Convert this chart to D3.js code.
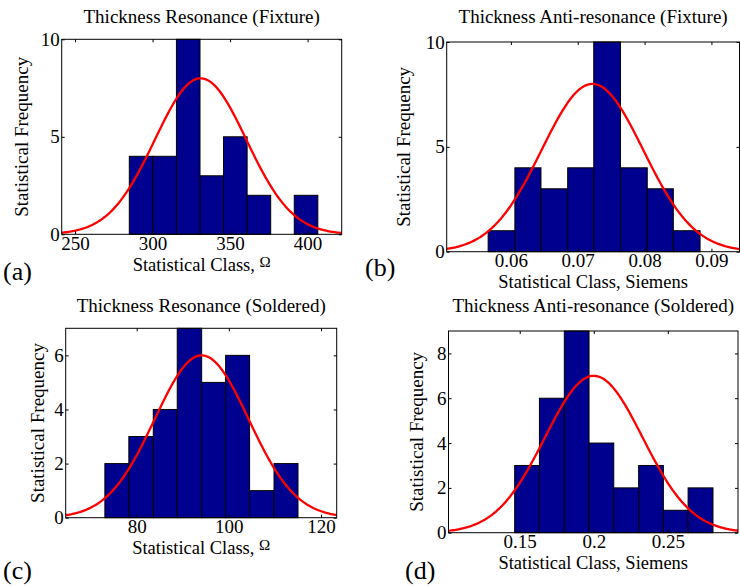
<!DOCTYPE html>
<html>
<head>
<meta charset="utf-8">
<script src="https://cdn.jsdelivr.net/npm/d3@7/dist/d3.min.js"></script>
<style>
  body { margin: 0; background: #fff; }
  svg { display: block; }
  svg text { font-family: "Liberation Serif", "DejaVu Serif", serif; }
</style>
</head>
<body>
<svg width="740" height="586"></svg>
<script>
// Histogram bins (edges) and counts
var edgesA = [285, 300.2, 315.4, 330.6, 345.8, 361, 376.2, 391.4, 406.6];
var countsA = [4, 4, 10, 3, 5, 2, 0, 2];

var edgesB = [0.0566, 0.0606, 0.0645, 0.0685, 0.0724, 0.0764, 0.0804, 0.0843, 0.0883];
var countsB = [1, 4, 3, 4, 10, 4, 3, 1];

var edgesC = [73.1, 78.3, 83.6, 88.8, 94.1, 99.3, 104.5, 109.8, 115.0];
var countsC = [2, 3, 4, 7, 5, 6, 1, 2];

var edgesD = [0.1466, 0.1633, 0.1801, 0.1968, 0.2135, 0.2303, 0.2470, 0.2637, 0.2805];
var countsD = [3, 6, 9, 4, 2, 3, 1, 2];

// normal fit of each histogram: [peak height, mean, sigma]
var fitA = [8, 331, 29.5];
var fitB = [8, 0.0722, 0.0076];
var fitC = [6, 94.1, 10.2];
var fitD = [7, 0.2, 0.033];

// axis limits and ticks
var xDomA = [241.4, 422],     xTicksA = [250, 300, 350, 400],     yDomA = [0, 10], yTicksA = [0, 5, 10];
var xDomB = [0.0504, 0.0942], xTicksB = [0.06, 0.07, 0.08, 0.09], yDomB = [0, 10], yTicksB = [0, 5, 10];
var xDomC = [64.6, 123.4],    xTicksC = [80, 100, 120],           yDomC = [0, 7],  yTicksC = [0, 2, 4, 6];
var xDomD = [0.1019, 0.2974], xTicksD = [0.15, 0.2, 0.25],        yDomD = [0, 9],  yTicksD = [0, 2, 4, 6, 8];

var titles = ["Thickness Resonance (Fixture)", "Thickness Anti-resonance (Fixture)",
              "Thickness Resonance (Soldered)", "Thickness Anti-resonance (Soldered)"];
var xLabels = ["Statistical Class, ", "Statistical Class, Siemens",
               "Statistical Class, ", "Statistical Class, Siemens"];
var xUnits = ["\u03A9", "", "\u03A9", ""];
var yLabel = "Statistical Frequency";
var tags = ["(a)", "(b)", "(c)", "(d)"];

var serif = "'Liberation Serif', 'DejaVu Serif', serif";
var svg = d3.select("svg").attr("font-family", serif);

// layout of the four axes boxes
var panels = [
  { edges: edgesA, counts: countsA, fit: fitA, xDom: xDomA, xTicks: xTicksA, yDom: yDomA, yTicks: yTicksA,
    l: 61.7, r: 341.7, t: 39.3, b: 234.3, titleY: 23, yLabX: 27.8, tagX: 3, tagY: 280 },
  { edges: edgesB, counts: countsB, fit: fitB, xDom: xDomB, xTicks: xTicksB, yDom: yDomB, yTicks: yTicksB,
    l: 446.7, r: 739.5, t: 42, b: 251.7, titleY: 23, yLabX: 409.5, tagX: 365, tagY: 276 },
  { edges: edgesC, counts: countsC, fit: fitC, xDom: xDomC, xTicks: xTicksC, yDom: yDomC, yTicks: yTicksC,
    l: 65.7, r: 336.7, t: 328.3, b: 517.7, titleY: 312, yLabX: 44, tagX: 3, tagY: 578.5 },
  { edges: edgesD, counts: countsD, fit: fitD, xDom: xDomD, xTicks: xTicksD, yDom: yDomD, yTicks: yTicksD,
    l: 448.5, r: 738, t: 331, b: 532.7, titleY: 312, yLabX: 422.8, tagX: 405, tagY: 578.5 }
];

panels.forEach(function(p, i) {
  var x = d3.scaleLinear().domain(p.xDom).range([p.l, p.r]);
  var y = d3.scaleLinear().domain(p.yDom).range([p.b, p.t]);
  var g = svg.append("g");

  // bars
  var bins = p.counts.map(function(c, k) { return { x0: p.edges[k], x1: p.edges[k + 1], n: c }; })
    .filter(function(d) { return d.n > 0; });
  g.selectAll("rect.bar")
    .data(bins)
    .enter()
    .append("rect")
    .attr("class", "bar")
    .attr("x", function(d) { return x(d.x0); })
    .attr("y", function(d) { return y(d.n); })
    .attr("width", function(d) { return x(d.x1) - x(d.x0); })
    .attr("height", function(d) { return y(0) - y(d.n); })
    .attr("fill", "#00008f")
    .attr("stroke", "#000")
    .attr("stroke-width", 1);

  // fitted normal curve over the whole x range
  var peak = p.fit[0], mu = p.fit[1], sd = p.fit[2];
  var xs = d3.range(0, 201).map(function(k) { return p.xDom[0] + k * (p.xDom[1] - p.xDom[0]) / 200; });
  var line = d3.line()
    .x(function(v) { return x(v); })
    .y(function(v) { return y(peak * Math.exp(-(v - mu) * (v - mu) / (2 * sd * sd))); });
  g.append("path")
    .datum(xs)
    .attr("d", line)
    .attr("fill", "none")
    .attr("stroke", "#ff0000")
    .attr("stroke-width", 2.3);

  // box
  g.append("rect")
    .attr("x", p.l).attr("y", p.t)
    .attr("width", p.r - p.l).attr("height", p.b - p.t)
    .attr("fill", "none").attr("stroke", "#000").attr("stroke-width", 1);

  // axes, ticks pointing inward on all four sides
  var fmt = function(d) { return String(d); };
  var axB = g.append("g").attr("transform", "translate(0," + p.b + ")")
    .call(d3.axisBottom(x).tickValues(p.xTicks).tickFormat(fmt).tickSizeInner(-3).tickSizeOuter(0).tickPadding(2));
  var axT = g.append("g").attr("transform", "translate(0," + p.t + ")")
    .call(d3.axisTop(x).tickValues(p.xTicks).tickFormat("").tickSizeInner(-3).tickSizeOuter(0));
  var axL = g.append("g").attr("transform", "translate(" + p.l + ",0)")
    .call(d3.axisLeft(y).tickValues(p.yTicks).tickFormat(fmt).tickSizeInner(-3).tickSizeOuter(0).tickPadding(2));
  var axR = g.append("g").attr("transform", "translate(" + p.r + ",0)")
    .call(d3.axisRight(y).tickValues(p.yTicks).tickFormat("").tickSizeInner(-3).tickSizeOuter(0));

  [axB, axT, axL, axR].forEach(function(a) {
    a.select(".domain").remove();
    a.attr("font-family", serif).attr("font-size", 19);
    a.selectAll("line").attr("stroke", "#000");
    a.selectAll("text").attr("fill", "#000").attr("font-family", serif);
  });

  // title
  g.append("text")
    .attr("x", (p.l + p.r) / 2).attr("y", p.titleY)
    .attr("text-anchor", "middle").attr("font-size", 19).attr("font-family", serif)
    .text(titles[i]);

  // x label
  var xl = g.append("text")
    .attr("x", (p.l + p.r) / 2).attr("y", p.b + 36.5)
    .attr("text-anchor", "middle").attr("font-size", 18.5).attr("font-family", serif);
  xl.append("tspan").text(xLabels[i]);
  if (xUnits[i]) xl.append("tspan").attr("font-size", 15).attr("dy", -4).text(xUnits[i]);

  // y label
  g.append("text")
    .attr("transform", "translate(" + p.yLabX + "," + (p.t + p.b) / 2 + ") rotate(-90)")
    .attr("text-anchor", "middle").attr("font-size", 19).attr("font-family", serif)
    .text(yLabel);

  // panel tag
  g.append("text")
    .attr("x", p.tagX).attr("y", p.tagY)
    .attr("font-size", 26).attr("font-family", serif)
    .text(tags[i]);
});
</script>
</body>
</html>
